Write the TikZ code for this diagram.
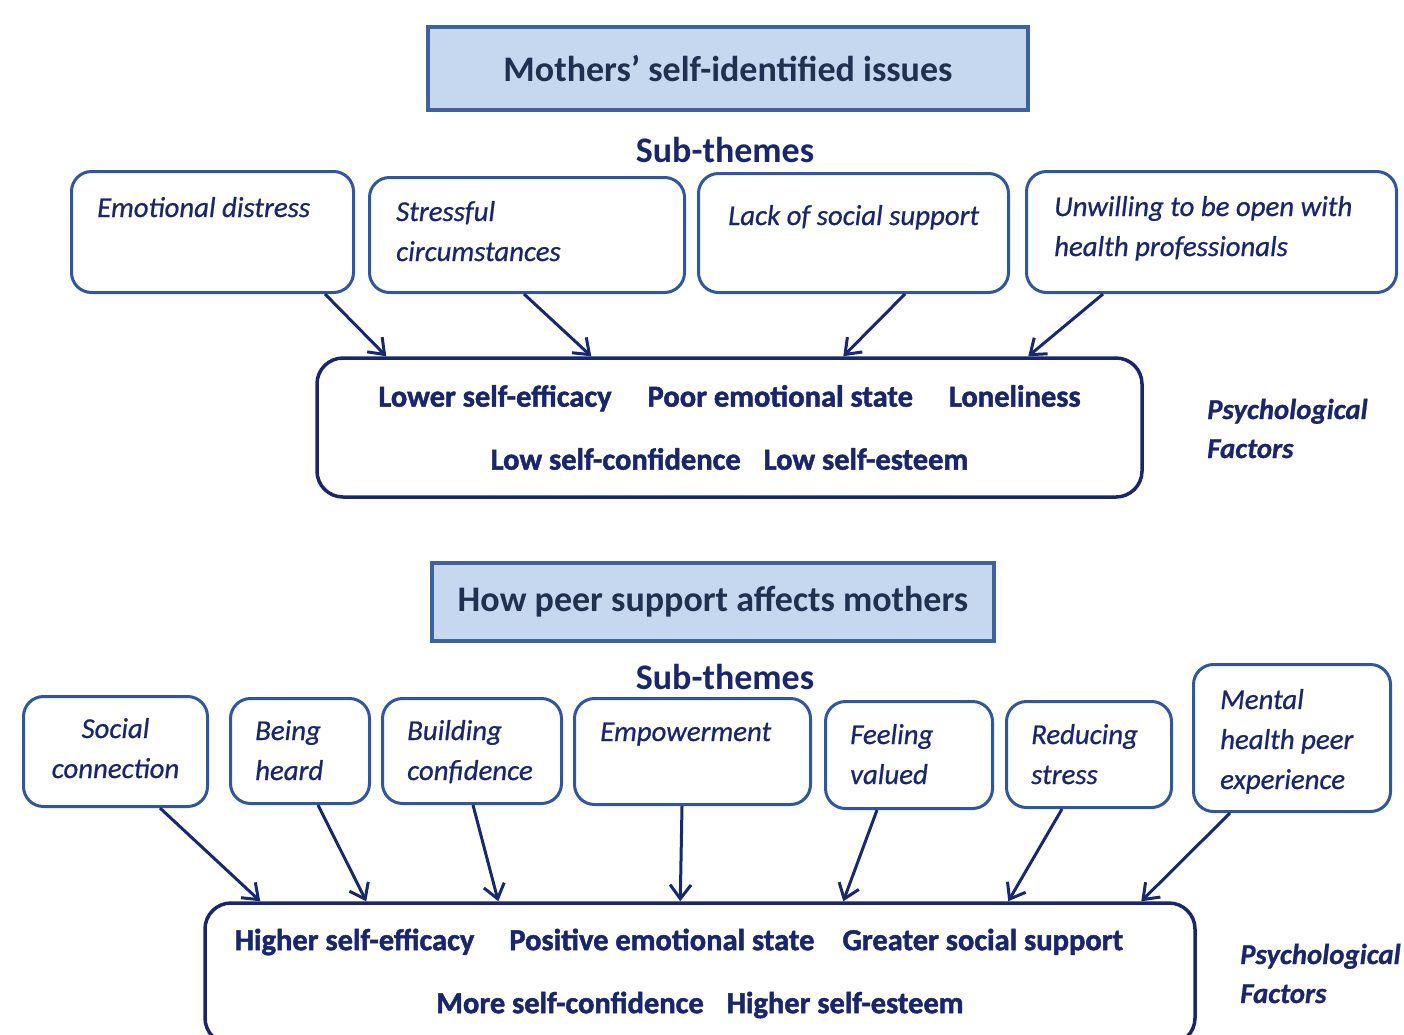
\documentclass[tikz,border=0pt]{standalone}
\usepackage{fontspec}
\setmainfont{Carlito}[ItalicFeatures={FakeBold=0.7}, BoldItalicFeatures={FakeBold=0.8}]
\newfontfamily\heavyfont{Carlito}[BoldFeatures={FakeBold=1.6}]
\usepackage{tikz}
\usetikzlibrary{arrows.meta, positioning, calc}

\definecolor{titlefill}{RGB}{198,216,240}
\definecolor{titleline}{RGB}{62,98,156}
\definecolor{titletext}{RGB}{32,48,80}
\definecolor{navy}{RGB}{26,38,108}
\definecolor{themeline}{RGB}{48,86,156}
\definecolor{arrowcol}{RGB}{24,40,110}

\tikzset{
    headbox/.style={draw=titleline, fill=titlefill, line width=3.5pt, text=titletext,
        font=\bfseries\fontsize{36}{42}\selectfont},
    subhead/.style={text=navy, font=\bfseries\fontsize{36}{42}\selectfont},
    themebox/.style={draw=themeline, line width=3pt, rounded corners=20pt, anchor=north west},
    themetext/.style={text=navy, inner sep=0pt, anchor=base west, align=left,
        font=\itshape\fontsize{28.8}{40}\selectfont},
    factorbox/.style={draw=navy, line width=3.5pt, rounded corners=26pt, text=navy, align=center,
        font=\heavyfont\bfseries\fontsize{30.5}{63}\selectfont},
    psych/.style={text=navy, inner sep=0pt, anchor=base west, align=left,
        font=\bfseries\itshape\fontsize{28.8}{39}\selectfont},
    link/.style={draw=arrowcol, line width=3pt, -{Straight Barb[length=14pt, width=21pt]}}
}

\begin{document}
\begin{tikzpicture}[x=1pt, y=-1pt]
    \useasboundingbox (0,0) rectangle (1404,1034);
    \clip (0,0) rectangle (1404,1034);

    % Mothers' self-identified issues
    \node[headbox, minimum width=600, minimum height=83] (issues) at (728,68.5) {Mothers’ self-identified issues};
    \node[subhead] (subA) at (725,150) {Sub-themes};

    \node[themebox, minimum width=282, minimum height=121] (emo) at (70,170) {};
    \node[themebox, minimum width=315, minimum height=115] (stress) at (368,176) {};
    \node[themebox, minimum width=310, minimum height=119] (lack) at (697,172) {};
    \node[themebox, minimum width=370, minimum height=121] (unwill) at (1025,170) {};
    % base anchor sits on the last line
    \node[themetext] (emotxt) at ([shift={(27,47)}]emo.north west) {Emotional distress};
    \node[themetext] (stresstxt) at ([shift={(28,85)}]stress.north west) {Stressful\\circumstances};
    \node[themetext] (lacktxt) at ([shift={(31,53)}]lack.north west) {Lack of social support};
    \node[themetext] (unwilltxt) at ([shift={(29,86)}]unwill.north west) {Unwilling to be open with\\health professionals};

    \node[factorbox, minimum width=825, minimum height=139] (low) at (729.5,427.5)
        {Lower self-efficacy\hspace{36pt}Poor emotional state\hspace{36pt}Loneliness\\
         Low self-confidence\hspace{23pt}Low self-esteem};
    \node[psych] (psychA) at (1207,458) {Psychological\\Factors};

    \draw[link] ([xshift=-30]emo.south east) -- ([xshift=71]low.north west);
    \draw[link] ([xshift=156]stress.south west) -- ([xshift=276]low.north west);
    \draw[link] ([xshift=208]lack.south west) -- ([xshift=528]low.north west);
    \draw[link] ([xshift=78]unwill.south west) -- ([xshift=713]low.north west);

    % How peer support affects mothers
    \node[headbox, minimum width=562, minimum height=78] (peer) at (713,602) {How peer support affects mothers};
    \node[subhead] (subB) at (725,677) {Sub-themes};

    \node[themebox, minimum width=184, minimum height=110] (social) at (22,695) {};
    \node[themebox, minimum width=139, minimum height=105] (heard) at (229,697) {};
    \node[themebox, minimum width=179, minimum height=105] (build) at (381,697) {};
    \node[themebox, minimum width=236, minimum height=106] (empow) at (573,697) {};
    \node[themebox, minimum width=167, minimum height=107] (valued) at (824,700) {};
    \node[themebox, minimum width=165, minimum height=106] (reduce) at (1005,700) {};
    \node[themebox, minimum width=197, minimum height=147] (mental) at (1192,663) {};
    \node[themetext, anchor=base, align=center] (socialtxt) at ([shift={(0,83)}]social.north) {Social\\connection};
    \node[themetext] (heardtxt) at ([shift={(26,83)}]heard.north west) {Being\\heard};
    \node[themetext] (buildtxt) at ([shift={(26,83)}]build.north west) {Building\\confidence};
    \node[themetext] (empowtxt) at ([shift={(27,44)}]empow.north west) {Empowerment};
    \node[themetext] (valuedtxt) at ([shift={(26,84)}]valued.north west) {Feeling\\valued};
    \node[themetext] (reducetxt) at ([shift={(26,84)}]reduce.north west) {Reducing\\stress};
    \node[themetext] (mentaltxt) at ([shift={(28,126)}]mental.north west) {Mental\\health peer\\experience};

    \node[factorbox, minimum width=990, minimum height=141] (high) at (700,973.5)
        {Higher self-efficacy\hspace{35pt}Positive emotional state\hspace{28pt}Greater social support\kern42pt\\
         More self-confidence\hspace{23pt}Higher self-esteem};
    \node[psych] (psychB) at (1240,1003) {Psychological\\Factors};

    \draw[link] ([xshift=138]social.south west) -- ([xshift=57]high.north west);
    \draw[link] ([xshift=89]heard.south west) -- ([xshift=163]high.north west);
    \draw[link] ([xshift=92]build.south west) -- ([xshift=295]high.north west);
    \draw[link] ([xshift=109]empow.south west) -- ([xshift=477]high.north west);
    \draw[link] ([xshift=53]valued.south west) -- ([xshift=640]high.north west);
    \draw[link] ([xshift=57]reduce.south west) -- ([xshift=805]high.north west);
    \draw[link] ([xshift=38]mental.south west) -- ([xshift=938]high.north west);
\end{tikzpicture}
\end{document}
